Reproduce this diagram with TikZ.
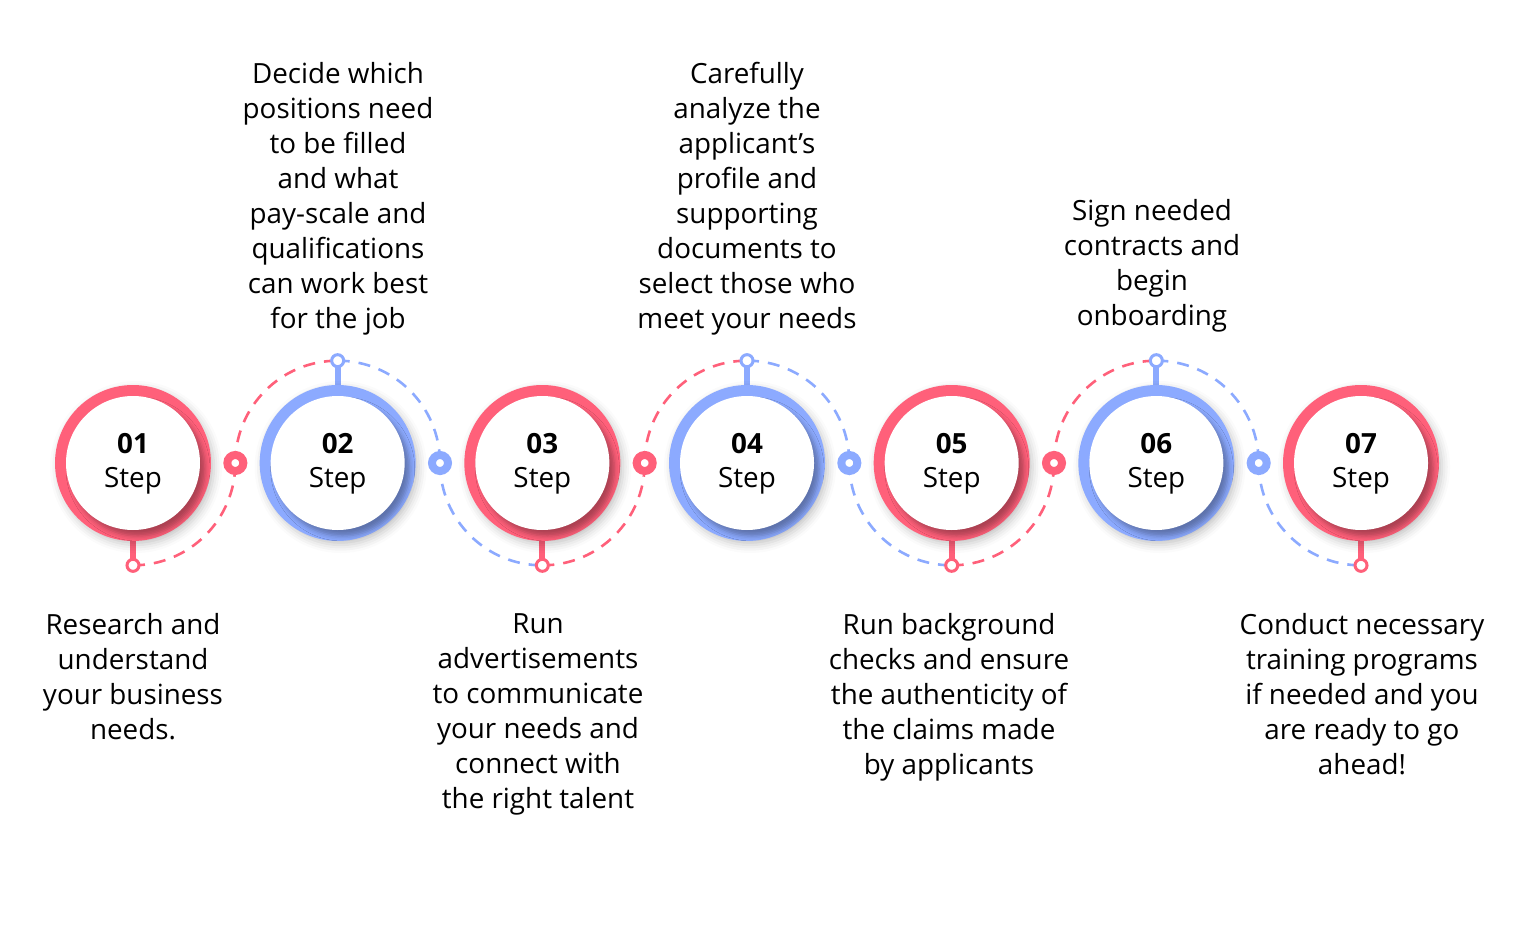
\documentclass[tikz,border=0pt]{standalone}
\usepackage{fontspec}
\setmainfont{Open Sans}
\usetikzlibrary{shadows.blur}
\definecolor{cred}{RGB}{255,96,122}
\definecolor{cblue}{RGB}{140,170,255}
\begin{document}
\begin{tikzpicture}[x=0.5pt,y=0.5pt,
  txt/.style={align=center, inner sep=0pt, font=\fontsize{13.9}{17.5}\selectfont, text=black},
  lbl/.style={inner sep=0pt, font=\fontsize{13.9}{16}\selectfont, text=black, anchor=base},
  dashline/.style={line width=1.3pt, dash pattern=on 6pt off 4.5pt},
  stemline/.style={line width=3pt},
  stemdot/.style={circle, draw, fill=white, line width=1.5pt, minimum size=6pt, inner sep=0pt},
  middot/.style={circle, draw, fill=white, line width=4pt, minimum size=8pt, inner sep=0pt},
  ringshadow/.style={blur shadow={shadow xshift=1.5pt, shadow yshift=-2pt, shadow blur radius=4pt, shadow opacity=22}},
  innershadow/.style={blur shadow={shadow xshift=2.5pt, shadow yshift=-3pt, shadow blur radius=2.5pt, shadow opacity=32}}
]
\useasboundingbox (0,0) rectangle (1521,-952);
\def\R{102.33}
% centres and dots
\foreach \i/\dir in {1/-1,2/1,3/-1,4/1,5/-1,6/1,7/-1}{
  \pgfmathsetmacro{\cx}{133+204.67*(\i-1)}
  \coordinate (c\i) at (\cx,-463);
  \coordinate (s\i) at (\cx,{-463+\dir*\R});
}
\foreach \i in {1,...,6}{
  \pgfmathsetmacro{\mx}{133+204.67*(\i-1)+\R}
  \coordinate (m\i) at (\mx,-463);
}
% dashed connectors
\foreach \i/\j/\col/\sa/\ea in {1/2/cred/-90/90, 2/3/cblue/90/270, 3/4/cred/-90/90, 4/5/cblue/90/270, 5/6/cred/-90/90, 6/7/cblue/90/270}{
  \draw[dashline, \col] (s\i) arc[start angle=\sa, end angle=0, radius=\R];
  \draw[dashline, \col] (m\i) arc[start angle=180, end angle=\ea, radius=\R];
}
% circles
\foreach \i/\col/\dir in {1/cred/-1,2/cblue/1,3/cred/-1,4/cblue/1,5/cred/-1,6/cblue/1,7/cred/-1}{
  \draw[stemline, \col] ($(c\i)+(0,\dir*70)$) -- (s\i);
  \fill[\col, ringshadow] (c\i) circle[radius=78];
  \fill[white, innershadow] (c\i) circle[radius=67];
  \node[stemdot, draw=\col] (sd\i) at (s\i) {};
  \node[lbl, font=\fontsize{13.9}{16}\selectfont\bfseries] (n\i) at ($(c\i)+(0,-453+463)$) {0\i};
  \node[lbl] (st\i) at ($(c\i)+(0,-487+463)$) {Step};
}
\foreach \i/\col in {1/cred,2/cblue,3/cred,4/cblue,5/cred,6/cblue}{
  \node[middot, draw=\col] (md\i) at (m\i) {};
}
% texts
\node[txt, anchor=south] (t2) at (338,-336) {Decide which\\positions need\\to be filled\\and what\\pay-scale and\\qualifications\\can work best\\for the job};
\node[txt, anchor=south] (t4) at (747,-336) {Carefully\\analyze the\\applicant’s\\profile and\\supporting\\documents to\\select those who\\meet your needs};
\node[txt, anchor=south] (t6) at (1152,-333) {Sign needed\\contracts and\\begin\\onboarding};
\node[txt, anchor=north] (t1) at (133,-613) {Research and\\understand\\your business\\needs.};
\node[txt, anchor=north] (t3) at (538,-613) {Run\\advertisements\\to communicate\\your needs and\\connect with\\the right talent};
\node[txt, anchor=north] (t5) at (949,-613) {Run background\\checks and ensure\\the authenticity of\\the claims made\\by applicants};
\node[txt, anchor=north] (t7) at (1362,-613) {Conduct necessary\\training programs\\if needed and you\\are ready to go\\ahead!};
\end{tikzpicture}
\end{document}
